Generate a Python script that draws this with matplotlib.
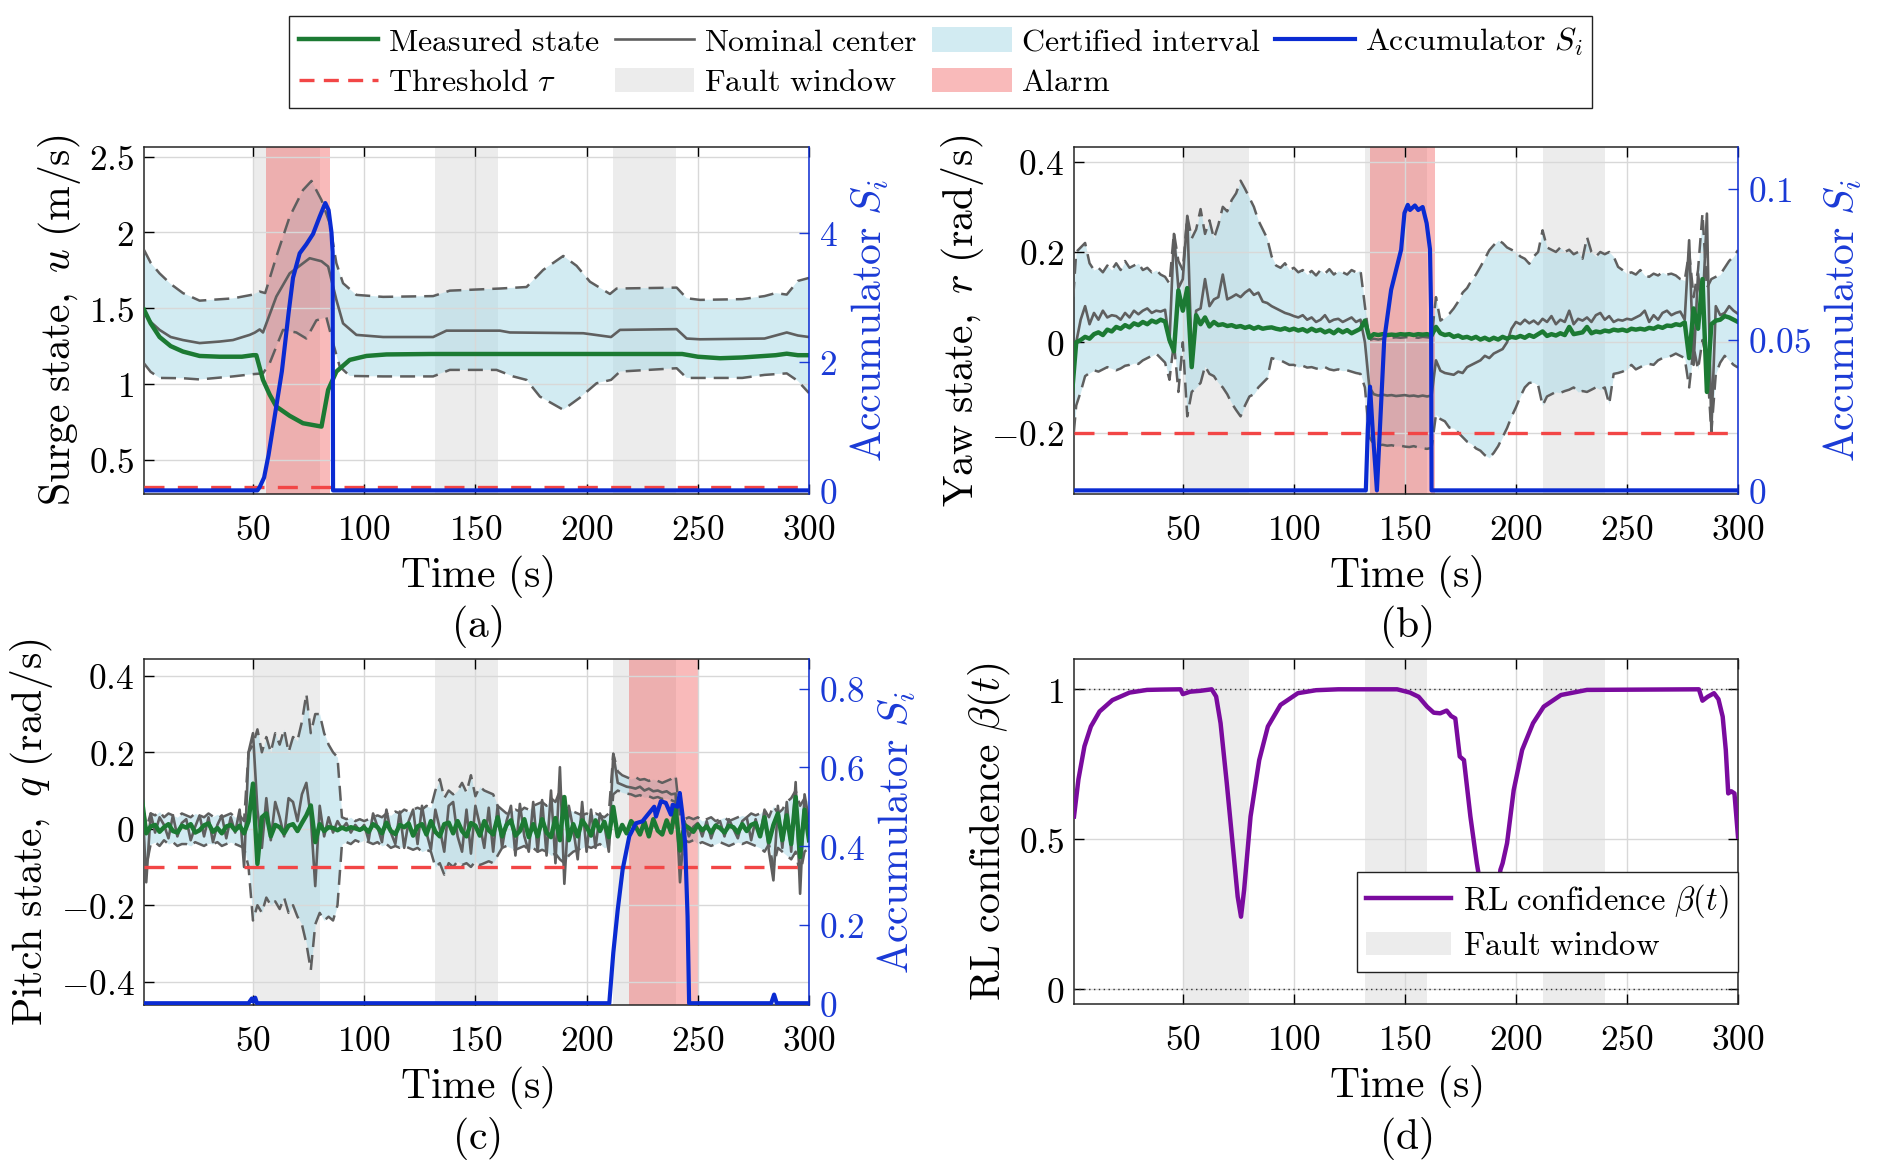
import numpy as np
import matplotlib
matplotlib.use('Agg')
import matplotlib.pyplot as plt
from matplotlib.ticker import FuncFormatter
from matplotlib.patches import Patch
from matplotlib.lines import Line2D

plt.rcParams['mathtext.fontset'] = 'cm'
plt.rcParams['font.family'] = ['DejaVu Serif']

# ---------------- data ----------------
fault_windows = [(50, 80), (132, 160), (212, 240)]
alarm_a = (56, 84.5)
alarm_b = (134.5, 163.5)
alarm_c = (219, 250)
thr_a = 0.32
thr_b = -0.2
thr_c = -0.1

# Panel (a) surge
ta_meas = [1, 4, 8, 13, 18.5, 26, 35, 45, 50, 51.5, 54.5, 57.5, 60.5, 66.5, 72.5, 80.8, 83.8, 87.5, 93.5, 101,
           110, 130, 160, 200, 243, 250, 260, 270, 280, 285, 290, 295, 300]
va_meas = [1.49, 1.40, 1.31, 1.25, 1.214, 1.185, 1.18, 1.18, 1.19, 1.19, 1.027, 0.93, 0.851, 0.79, 0.741, 0.719,
           0.961, 1.082, 1.159, 1.185, 1.195, 1.198, 1.198, 1.198, 1.198, 1.18, 1.17, 1.175, 1.185, 1.19, 1.2, 1.19, 1.19]
ta_nom = [1, 4, 8, 13, 18.5, 26, 35, 41, 48.5, 50.8, 53, 54.5, 60.5, 66.5, 75.5, 80.8, 83.8, 87.5, 90.5, 96.5,
          108.5, 131, 137, 161, 165.5, 198.5, 211, 215, 240.5, 245, 251, 280, 285, 290, 295, 300]
va_nom = [1.478, 1.41, 1.357, 1.31, 1.29, 1.27, 1.28, 1.29, 1.324, 1.339, 1.36, 1.34, 1.577, 1.73, 1.83, 1.81,
          1.775, 1.555, 1.40, 1.324, 1.31, 1.31, 1.352, 1.352, 1.34, 1.335, 1.31, 1.357, 1.362, 1.30, 1.295, 1.30,
          1.32, 1.34, 1.32, 1.31]
ta_up = [1, 4, 8, 13, 18.5, 26, 41, 50, 53, 55.5, 60.5, 66.5, 72.5, 76.3, 80.8, 84.5, 87.5, 90.5, 96.5, 108.5,
         131, 138.5, 161, 173, 180.5, 189.5, 195.5, 201.5, 210.5, 213.5, 240.5, 245, 251, 270, 280, 285, 290, 295, 300]
va_up = [1.885, 1.80, 1.73, 1.66, 1.60, 1.55, 1.565, 1.59, 1.61, 1.60, 1.84, 2.104, 2.28, 2.34, 2.214, 2.06, 1.797,
         1.665, 1.588, 1.575, 1.58, 1.616, 1.63, 1.64, 1.753, 1.845, 1.78, 1.675, 1.594, 1.63, 1.636, 1.566, 1.555,
         1.56, 1.58, 1.60, 1.59, 1.68, 1.70]
ta_lo = [1, 4, 8, 18.5, 26, 41, 50, 54.5, 57.5, 63.5, 69.5, 74, 78.5, 83, 86, 89, 93.5, 108.5, 131, 138.5,
         159.5, 167, 173, 179, 189.5, 197, 204.5, 211, 215, 240.5, 245, 251, 270, 280, 290, 295, 300]
va_lo = [1.136, 1.08, 1.04, 1.038, 1.03, 1.05, 1.065, 1.07, 1.137, 1.357, 1.34, 1.30, 1.42, 1.44, 1.27, 1.115,
         1.053, 1.05, 1.05, 1.093, 1.093, 1.05, 1.027, 0.917, 0.83, 0.91, 1.005, 1.027, 1.082, 1.104, 1.04, 1.04,
         1.04, 1.06, 1.07, 1.02, 0.94]
ta_acc = [1, 52, 53, 55, 57, 60, 63, 66, 68, 71, 74, 77, 80, 82.5, 84, 85.3, 85.8, 86.0, 300]
va_acc = [0, 0, 0.05, 0.2, 0.55, 1.2, 1.85, 2.75, 3.3, 3.68, 3.82, 3.98, 4.25, 4.46, 4.35, 4.0, 3.7, 0, 0]

# Panels (b), (c): sampled every 2 s from 0 to 300 s
t_grid = np.arange(0, 301, 2)

vb_meas = [-0.12, 0.0, 0.005, 0.012, 0.008, 0.018, 0.022, 0.016, 0.028, 0.024,
           0.034, 0.03, 0.038, 0.033, 0.042, 0.038, 0.045, 0.04, 0.048, 0.044,
           0.05, 0.046, 0.005, -0.02, 0.115, 0.07, 0.12, -0.055, 0.06, 0.04,
           0.055, 0.035, 0.045, 0.038, 0.04, 0.036, 0.038, 0.034, 0.036, 0.032,
           0.035, 0.03, 0.034, 0.03, 0.032, 0.033, 0.03, 0.028, 0.031, 0.027,
           0.03, 0.026, 0.029, 0.024, 0.03, 0.025, 0.028, 0.022, 0.026, 0.02,
           0.028, 0.022, 0.027, 0.02, 0.025, 0.03, 0.048, 0.01, 0.018, 0.016,
           0.018, 0.016, 0.017, 0.016, 0.018, 0.017, 0.018, 0.016, 0.018, 0.017,
           0.018, 0.015, 0.034, 0.02, 0.016, 0.018, 0.012, 0.015, 0.01, 0.012,
           0.008, 0.012, 0.006, 0.01, 0.005, 0.01, 0.006, 0.012, 0.008, 0.012,
           0.01, 0.014, 0.01, 0.016, 0.012, 0.018, 0.024, 0.014, 0.018, 0.015,
           0.02, 0.016, 0.034, 0.018, 0.02, 0.022, 0.034, 0.02, 0.024, 0.022,
           0.026, 0.024, 0.028, 0.026, 0.028, 0.025, 0.03, 0.028, 0.03, 0.028,
           0.032, 0.03, 0.035, 0.032, 0.037, 0.036, 0.04, 0.038, 0.044, -0.035,
           0.075, 0.03, 0.14, -0.11, 0.04, 0.048, 0.05, 0.058, 0.055, 0.05,
           0.045]
vb_nom = [-0.03, 0.0, 0.05, 0.08, 0.04, 0.065, 0.05, 0.07, 0.055, 0.06,
          0.058, 0.05, 0.065, 0.055, 0.07, 0.062, 0.07, 0.075, 0.065, 0.07,
          0.068, 0.072, 0.0, 0.24, 0.12, 0.14, 0.28, -0.035, 0.07, 0.075,
          0.14, 0.08, 0.095, 0.1, 0.15, 0.095, 0.1, 0.106, 0.1, 0.11,
          0.117, 0.105, 0.11, 0.09, 0.087, 0.08, 0.075, 0.07, 0.065, 0.062,
          0.058, 0.055, 0.06, 0.05, 0.055, 0.045, 0.05, 0.06, 0.045, 0.05,
          0.052, 0.045, 0.05, 0.055, 0.045, 0.05, 0.0, -0.1, -0.115, -0.118,
          -0.116, -0.118, -0.117, -0.119, -0.118, -0.117, -0.119, -0.118, -0.12, -0.118,
          -0.12, -0.118, -0.04, -0.063, -0.068, -0.07, -0.072, -0.065, -0.068, -0.055,
          -0.05, -0.045, -0.04, -0.03, -0.035, -0.025, -0.02, -0.015, 0.0, 0.03,
          0.045, 0.04, 0.05, 0.042, 0.048, 0.04, 0.052, 0.045, 0.058, 0.04,
          0.05, 0.045, 0.07, 0.04, 0.052, 0.048, 0.055, 0.045, 0.06, 0.065,
          0.05, 0.058, 0.045, 0.05, 0.048, 0.052, 0.05, 0.055, 0.06, 0.07,
          0.045, 0.06, 0.05, 0.065, 0.07, 0.06, 0.065, 0.068, 0.05, 0.226,
          -0.05, 0.152, 0.07, 0.285, -0.196, 0.08, 0.06, 0.065, 0.08, 0.07,
          0.063]
vb_up = [0.05, 0.2, 0.21, 0.22, 0.175, 0.16, 0.165, 0.155, 0.17, 0.16,
         0.175, 0.16, 0.18, 0.165, 0.17, 0.175, 0.16, 0.165, 0.155, 0.16,
         0.15, 0.145, 0.13, 0.243, 0.18, 0.16, 0.28, 0.23, 0.25, 0.295,
         0.24, 0.27, 0.23, 0.26, 0.3, 0.29, 0.315, 0.33, 0.358, 0.34,
         0.32, 0.3, 0.27, 0.25, 0.23, 0.19, 0.17, 0.165, 0.175, 0.16,
         0.165, 0.155, 0.16, 0.15, 0.158, 0.148, 0.16, 0.152, 0.162, 0.15,
         0.158, 0.155, 0.15, 0.16, 0.155, 0.16, 0.08, 0.005, 0.008, 0.006,
         0.008, 0.009, 0.01, 0.011, 0.01, 0.011, 0.012, 0.011, 0.01, 0.012,
         0.011, 0.01, 0.1, 0.048, 0.055, 0.063, 0.075, 0.09, 0.11, 0.12,
         0.137, 0.15, 0.167, 0.185, 0.204, 0.215, 0.226, 0.22, 0.21, 0.205,
         0.2, 0.19, 0.185, 0.174, 0.19, 0.2, 0.248, 0.21, 0.205, 0.2,
         0.21, 0.2, 0.205, 0.195, 0.2, 0.185, 0.233, 0.2, 0.19, 0.2,
         0.195, 0.2, 0.19, 0.167, 0.16, 0.152, 0.155, 0.15, 0.16, 0.148,
         0.145, 0.152, 0.148, 0.155, 0.15, 0.152, 0.148, 0.14, 0.137, 0.2,
         0.1, 0.16, 0.285, 0.12, 0.14, 0.145, 0.15, 0.165, 0.18, 0.19,
         0.204]
vb_lo = [-0.25, -0.14, -0.11, -0.075, -0.068, -0.062, -0.065, -0.06, -0.055, -0.058,
         -0.062, -0.058, -0.052, -0.05, -0.046, -0.048, -0.04, -0.035, -0.03, -0.025,
         -0.035, -0.045, -0.083, 0.0, -0.11, 0.0, -0.164, -0.11, -0.1, -0.09,
         -0.053, -0.07, -0.075, -0.09, -0.1, -0.115, -0.135, -0.15, -0.164, -0.14,
         -0.12, -0.115, -0.1, -0.09, -0.08, -0.035, -0.038, -0.04, -0.045, -0.05,
         -0.05, -0.055, -0.052, -0.056, -0.055, -0.058, -0.06, -0.055, -0.06, -0.062,
         -0.06, -0.063, -0.062, -0.065, -0.068, -0.07, -0.1, -0.21, -0.226, -0.228,
         -0.227, -0.229, -0.228, -0.23, -0.229, -0.231, -0.232, -0.23, -0.233, -0.235,
         -0.236, -0.234, -0.16, -0.17, -0.175, -0.189, -0.19, -0.2, -0.21, -0.22,
         -0.225, -0.235, -0.24, -0.25, -0.256, -0.245, -0.23, -0.21, -0.19, -0.165,
         -0.144, -0.12, -0.1, -0.09, -0.089, -0.095, -0.14, -0.12, -0.115, -0.11,
         -0.112, -0.108, -0.105, -0.1, -0.11, -0.108, -0.11, -0.105, -0.1, -0.105,
         -0.1, -0.137, -0.07, -0.068, -0.065, -0.06, -0.05, -0.06, -0.055, -0.05,
         -0.048, -0.05, -0.04, -0.035, -0.033, -0.03, -0.025, -0.03, -0.035, -0.1,
         -0.01, -0.06, 0.005, -0.04, -0.2, -0.07, -0.045, -0.03, -0.04, -0.05,
         -0.056]
tb_acc = [1, 132.4, 133.3, 134.3, 135.5, 137.4, 140.7, 143.8, 148.3, 149.8, 151.3, 152.3, 154.5, 156, 158,
          159.8, 161.3, 161.8, 162.0, 300]
vb_acc = [0, 0, 0.02, 0.0344, 0.02, 0, 0.05, 0.0665, 0.0798, 0.092, 0.0947, 0.093, 0.0945, 0.093, 0.094,
          0.0886, 0.08, 0.06, 0, 0]

vc_meas = [0.08, -0.012, 0.006, 0.01, -0.008, 0.004, 0.012, -0.006, -0.01, 0.008,
           0.003, 0.012, -0.01, -0.004, 0.009, 0.014, -0.008, 0.002, -0.012, 0.006,
           0.01, -0.004, 0.008, -0.012, 0.02, 0.118, -0.092, 0.03, 0.04, -0.02,
           0.01, 0.004, -0.012, 0.008, 0.012, -0.006, 0.015, 0.035, 0.061, -0.035,
           0.012, -0.006, 0.004, 0.002, -0.004, 0.003, -0.002, 0.004, 0.001, -0.003,
           0.003, -0.008, 0.012, 0.004, -0.012, 0.016, -0.006, -0.014, 0.01, 0.004,
           0.014, -0.018, 0.006, 0.012, -0.015, 0.02, -0.008, -0.02, 0.012, 0.016,
           -0.012, 0.02, -0.006, -0.02, 0.015, 0.008, -0.018, 0.02, -0.004, -0.015,
           0.03, -0.02, 0.01, 0.022, -0.018, -0.006, 0.025, -0.022, 0.012, -0.02,
           0.025, -0.01, -0.022, 0.028, -0.03, 0.083, -0.03, 0.012, -0.02, 0.022,
           0.005, -0.018, 0.022, -0.006, 0.018, -0.022, 0.057, -0.02, 0.01, -0.012,
           0.02, 0.006, -0.015, 0.018, -0.02, 0.025, -0.005, -0.015, 0.022, -0.01,
           0.057, -0.057, 0.01, 0.002, -0.008, 0.01, -0.004, 0.006, -0.01, 0.008,
           0.002, -0.01, 0.008, 0.004, -0.01, 0.012, -0.006, 0.01, 0.015, -0.02,
           0.03, -0.035, 0.01, 0.04, -0.03, 0.035, -0.04, 0.083, -0.074, 0.05,
           -0.03]
vc_nom = [0.1, -0.14, 0.04, -0.01, 0.03, 0.01, -0.025, 0.035, -0.02, 0.015,
          0.025, -0.03, 0.005, 0.035, -0.02, 0.03, -0.035, 0.01, 0.035, -0.025,
          0.03, -0.01, 0.05, -0.1, 0.2, 0.25, 0.05, -0.05, 0.08, -0.03,
          0.07, 0.03, -0.02, 0.08, 0.07, 0.02, 0.09, 0.12, 0.03, -0.15,
          0.06, -0.02, 0.03, -0.01, 0.02, 0.0, 0.015, -0.01, 0.01, -0.005,
          0.01, -0.03, 0.04, 0.005, -0.035, 0.05, -0.01, -0.04, 0.045, -0.05,
          0.02, 0.05, -0.04, 0.06, -0.01, -0.055, 0.05, 0.0, -0.06, 0.06,
          0.07, -0.02, -0.06, 0.05, -0.065, 0.06, 0.01, -0.05, 0.055, -0.06,
          0.06, -0.05, 0.02, 0.06, -0.07, 0.065, -0.02, -0.06, 0.07, -0.06,
          0.075, -0.07, 0.1, -0.09, 0.161, -0.144, 0.06, 0.0, -0.08, 0.07,
          -0.06, 0.05, -0.05, 0.04, 0.01, -0.06, 0.196, 0.12, 0.115, 0.11,
          0.108, 0.105, 0.11, 0.1, 0.105, 0.098, 0.1, 0.095, 0.098, 0.09,
          0.092, -0.14, 0.02, -0.02, 0.005, 0.015, -0.02, 0.02, -0.025, 0.01,
          0.02, -0.02, 0.025, 0.0, -0.025, 0.02, 0.03, -0.03, 0.025, -0.02,
          0.05, -0.06, -0.135, 0.06, -0.05, 0.07, -0.06, 0.122, -0.17, 0.09,
          0.02]
vc_up = [0.1, 0.0, 0.04, 0.035, 0.045, 0.03, 0.04, 0.035, 0.03, 0.04,
         0.035, 0.03, 0.04, 0.035, 0.03, 0.04, 0.032, 0.038, 0.03, 0.035,
         0.04, 0.03, 0.035, 0.02, 0.2, 0.22, 0.26, 0.2, 0.24, 0.2,
         0.25, 0.22, 0.26, 0.2, 0.24, 0.23, 0.28, 0.353, 0.25, 0.3,
         0.3, 0.25, 0.22, 0.2, 0.187, 0.03, 0.025, 0.03, 0.02, 0.025,
         0.02, 0.025, 0.03, 0.035, 0.03, 0.04, 0.035, 0.045, 0.04, 0.05,
         0.045, 0.05, 0.055, 0.05, 0.06, 0.055, 0.1, 0.13, 0.08, 0.1,
         0.09, 0.1, 0.12, 0.095, 0.14, 0.085, 0.11, 0.1, 0.095, 0.09,
         0.06, 0.05, 0.04, 0.045, 0.05, 0.045, 0.055, 0.05, 0.06, 0.065,
         0.07, 0.06, 0.08, 0.07, 0.1, 0.06, 0.05, 0.045, 0.04, 0.035,
         0.04, 0.035, 0.04, 0.035, 0.03, 0.04, 0.196, 0.15, 0.14, 0.135,
         0.13, 0.135, 0.128, 0.13, 0.125, 0.13, 0.125, 0.12, 0.125, 0.13,
         0.14, 0.03, 0.025, 0.03, 0.025, 0.03, 0.02, 0.025, 0.03, 0.02,
         0.025, 0.03, 0.02, 0.025, 0.03, 0.035, 0.03, 0.04, 0.035, 0.04,
         0.05, 0.03, 0.06, 0.04, 0.05, 0.07, 0.08, 0.1, 0.06, 0.08,
         0.07]
vc_lo = [-0.06, -0.1, -0.04, -0.035, -0.045, -0.03, -0.04, -0.035, -0.045, -0.04,
         -0.04, -0.045, -0.035, -0.04, -0.045, -0.038, -0.04, -0.035, -0.045, -0.04,
         -0.035, -0.04, -0.045, -0.05, -0.1, -0.24, -0.2, -0.22, -0.18, -0.2,
         -0.19, -0.21, -0.18, -0.22, -0.2, -0.23, -0.25, -0.3, -0.37, -0.25,
         -0.22, -0.24, -0.23, -0.24, -0.2, -0.04, -0.035, -0.04, -0.03, -0.035,
         -0.03, -0.035, -0.04, -0.035, -0.045, -0.04, -0.05, -0.045, -0.05, -0.045,
         -0.05, -0.055, -0.05, -0.06, -0.055, -0.06, -0.1, -0.09, -0.12, -0.09,
         -0.1, -0.085, -0.095, -0.09, -0.1, -0.085, -0.095, -0.09, -0.085, -0.09,
         -0.07, -0.05, -0.045, -0.05, -0.055, -0.05, -0.045, -0.055, -0.05, -0.06,
         -0.055, -0.06, -0.07, -0.065, -0.08, -0.09, -0.07, -0.06, -0.055, -0.05,
         -0.045, -0.05, -0.045, -0.04, -0.05, -0.045, 0.09, 0.1, 0.095, 0.092,
         0.09, 0.085, 0.088, 0.082, 0.085, 0.08, 0.083, 0.078, 0.08, 0.075,
         0.07, -0.1, -0.03, -0.035, -0.03, -0.04, -0.035, -0.04, -0.045, -0.04,
         -0.035, -0.04, -0.045, -0.04, -0.035, -0.04, -0.035, -0.04, -0.045, -0.05,
         -0.06, -0.04, -0.1, -0.05, -0.06, -0.07, -0.08, -0.06, -0.12, -0.06,
         -0.05]
tc_acc = [1, 48, 49.5, 50.2, 51, 51.8, 53, 210.2, 212, 214, 216.2, 219.2, 222.2, 225.1, 228.1, 230.4, 231.2,
          233.4, 235.6, 237.9, 238.7, 240.9, 241.9, 243.1, 244.3, 245.4, 246.1, 283, 284.3, 285.5, 300]
vc_acc = [0, 0, 0.012, 0.004, 0.014, 0, 0, 0, 0.128, 0.238, 0.34, 0.425, 0.458, 0.463, 0.484, 0.5, 0.475,
          0.514, 0.51, 0.48, 0.505, 0.5, 0.535, 0.48, 0.408, 0.221, 0, 0, 0.022, 0, 0]

# Panel (d) RL confidence
td_beta = [1, 3, 5.7, 8.6, 12.5, 18.3, 26, 33.9, 40, 49, 50, 53.3, 58, 63, 65, 67, 69.8, 72.7, 74.7, 76.2,
           77.6, 80.5, 84.4, 88.3, 94, 101.8, 110, 120, 146.5, 152.3, 156.2, 160, 163, 165.9, 168.8, 170.8,
           172.7, 174.7, 176.6, 179.5, 182.4, 184.4, 188, 191, 193, 194, 196, 199, 202.8, 207.7, 212.5, 220.3,
           232, 282.4, 284, 286.3, 289.2, 291.2, 293.1, 294.5, 295.6, 297, 298.4, 300]
vd_beta = [0.576, 0.70, 0.81, 0.876, 0.926, 0.964, 0.989, 0.998, 0.999, 1.0, 0.984, 0.992, 0.995, 1.0, 0.976,
           0.887, 0.687, 0.464, 0.309, 0.242, 0.331, 0.576, 0.764, 0.876, 0.948, 0.987, 0.997, 1.0, 1.0, 0.989,
           0.975, 0.942, 0.922, 0.92, 0.929, 0.911, 0.903, 0.776, 0.764, 0.576, 0.42, 0.331, 0.2, 0.25, 0.398,
           0.42, 0.487, 0.664, 0.798, 0.887, 0.942, 0.981, 0.998, 1.0, 0.962, 0.975, 0.987, 0.967, 0.909, 0.798,
           0.653, 0.66, 0.653, 0.509]

x_ticks = [50, 100, 150, 200, 250, 300]

# ---------------- style ----------------
GREEN = '#1c7a33'
GREY = '#5f5f5f'
CERT = (0.68, 0.86, 0.91)
CERT_A = 0.55
FAULT = '#ececec'
ALARM = (0.94, 0.33, 0.33)
ALARM_A = 0.4
BLUE = '#0a2bd2'
BLUE_T = '#1a3ad6'
RED = '#f24646'
PURPLE = '#7a0b9e'
TICK = 25.5
LAB = 30
LEG = 23.5

fmt = FuncFormatter(lambda v, p: '$%g$' % v)

fig = plt.figure(figsize=(18.86, 11.76), dpi=100)
W, H = 1886.0, 1176.0


def axes_at(l, t, r, b):
    return fig.add_axes([l / W, 1 - b / H, (r - l) / W, (b - t) / H])


def style_main(ax, ylim, yticks, right_ticks=False):
    ax.set_xlim(1, 300)
    ax.set_ylim(*ylim)
    ax.set_xticks(x_ticks)
    ax.set_yticks(yticks)
    ax.xaxis.set_major_formatter(fmt)
    ax.yaxis.set_major_formatter(fmt)
    ax.tick_params(direction='in', length=7, width=1, labelsize=TICK, top=True, right=right_ticks, pad=7)
    ax.tick_params(axis='x', pad=14)
    ax.grid(True, color='#d8d8d8', lw=1.0)
    for s in ax.spines.values():
        s.set_linewidth(1.1)
        s.set_color('#262626')
    ax.set_xlabel(r'$\mathrm{Time\ (s)}$', fontsize=LAB, labelpad=4)


def style_twin(ax2, ylim, yticks):
    ax2.set_ylim(*ylim)
    ax2.set_yticks(yticks)
    ax2.yaxis.set_major_formatter(fmt)
    ax2.tick_params(axis='y', direction='in', length=7, width=1, colors=BLUE_T, labelsize=TICK, pad=7)
    for k in ['left', 'top', 'bottom']:
        ax2.spines[k].set_visible(False)
    ax2.spines['right'].set_color(BLUE)
    ax2.spines['right'].set_linewidth(1.1)
    ax2.set_ylabel(r'$\mathrm{Accumulator}\ S_i$', color=BLUE_T, fontsize=LAB, labelpad=8)


def shade(ax, alarm):
    for a, b in fault_windows:
        ax.axvspan(a, b, color=FAULT, lw=0, zorder=0.5)
    if alarm is not None:
        ax.axvspan(alarm[0], alarm[1], color=ALARM, alpha=ALARM_A, lw=0, zorder=1.2)


DASH = dict(color=GREY, lw=1.8, dashes=(6, 3.2), zorder=3)
THR = dict(color=RED, lw=2.4, dashes=(6, 4), zorder=3.5)

# ---- panel (a)
ax = axes_at(144, 147, 809, 494)
shade(ax, alarm_a)
poly_t = list(ta_up) + list(ta_lo[::-1])
poly_v = list(va_up) + list(va_lo[::-1])
ax.fill(poly_t, poly_v, color=CERT, alpha=CERT_A, lw=0, zorder=1)
ax.axhline(thr_a, **THR)
ax.plot(ta_up, va_up, **DASH)
ax.plot(ta_lo, va_lo, **DASH)
ax.plot(ta_nom, va_nom, color=GREY, lw=1.9, zorder=3.2)
ax.plot(ta_meas, va_meas, color=GREEN, lw=3.2, zorder=4)
style_main(ax, (0.274, 2.564), [0.5, 1, 1.5, 2, 2.5])
ax.spines['right'].set_visible(False)
ax.set_ylabel(r'$\mathrm{Surge\ state,}\ u\ \mathrm{(m/s)}$', fontsize=LAB)
ax2 = ax.twinx()
ax2.plot(ta_acc, va_acc, color=BLUE, lw=3.0, zorder=5)
style_twin(ax2, (-0.056, 5.33), [0, 2, 4])
ax2.set_xlim(1, 300)

# ---- panel (b)
ax = axes_at(1074, 147, 1738, 494)
shade(ax, alarm_b)
ax.fill_between(t_grid, vb_lo, vb_up, color=CERT, alpha=CERT_A, lw=0, zorder=1)
ax.axhline(thr_b, **THR)
ax.plot(t_grid, vb_up, **DASH)
ax.plot(t_grid, vb_lo, **DASH)
ax.plot(t_grid, vb_nom, color=GREY, lw=1.9, zorder=3.2)
ax.plot(t_grid, vb_meas, color=GREEN, lw=3.2, zorder=4)
style_main(ax, (-0.336, 0.4325), [-0.2, 0, 0.2, 0.4])
ax.spines['right'].set_visible(False)
ax.set_ylabel(r'$\mathrm{Yaw\ state,}\ r\ \mathrm{(rad/s)}$', fontsize=LAB)
ax2 = ax.twinx()
ax2.plot(tb_acc, vb_acc, color=BLUE, lw=3.0, zorder=5)
style_twin(ax2, (-0.0012, 0.1139), [0, 0.05, 0.1])
ax2.set_xlim(1, 300)

# ---- panel (c)
ax = axes_at(144, 659, 809, 1005)
shade(ax, alarm_c)
ax.fill_between(t_grid, vc_lo, vc_up, color=CERT, alpha=CERT_A, lw=0, zorder=1)
ax.axhline(thr_c, **THR)
ax.plot(t_grid, vc_up, **DASH)
ax.plot(t_grid, vc_lo, **DASH)
ax.plot(t_grid, vc_nom, color=GREY, lw=1.9, zorder=3.2)
ax.plot(t_grid, vc_meas, color=GREEN, lw=3.2, zorder=4)
style_main(ax, (-0.461, 0.444), [-0.4, -0.2, 0, 0.2, 0.4])
ax.spines['right'].set_visible(False)
ax.set_ylabel(r'$\mathrm{Pitch\ state,}\ q\ \mathrm{(rad/s)}$', fontsize=LAB)
ax2 = ax.twinx()
ax2.plot(tc_acc, vc_acc, color=BLUE, lw=3.0, zorder=5)
style_twin(ax2, (-0.0045, 0.876), [0, 0.2, 0.4, 0.6, 0.8])
ax2.set_xlim(1, 300)

# ---- panel (d)
ax = axes_at(1074, 659, 1738, 1004)
shade(ax, None)
ax.axhline(1.0, color='#333333', lw=1.0, ls=(0, (1, 2.5)), zorder=2)
ax.axhline(0.0, color='#333333', lw=1.0, ls=(0, (1, 2.5)), zorder=2)
hb, = ax.plot(td_beta, vd_beta, color=PURPLE, lw=3.2, zorder=4)
style_main(ax, (-0.049, 1.101), [0, 0.5, 1], right_ticks=True)
ax.set_ylabel(r'$\mathrm{RL\ confidence}\ \beta(t)$', fontsize=LAB)
lg = ax.legend([hb, Patch(facecolor=FAULT, edgecolor='none')],
               [r'$\mathrm{RL\ confidence}\ \beta(t)$', r'$\mathrm{Fault\ window}$'],
               loc='lower right', bbox_to_anchor=(1.0, 0.094), borderaxespad=0, fontsize=LEG,
               frameon=True, fancybox=False, edgecolor='#222222', framealpha=1,
               handlelength=2.6, handletextpad=0.35, labelspacing=0.3, borderpad=0.3)
lg.get_frame().set_linewidth(1.0)
lg.set_zorder(10)

# ---- captions
for x, y, s in [((144 + 809) / 2, 626, '(a)'), ((1074 + 1738) / 2, 626, '(b)'),
                ((144 + 809) / 2, 1138, '(c)'), ((1074 + 1738) / 2, 1138, '(d)')]:
    fig.text(x / W, 1 - y / H, r'$\mathrm{%s}$' % s, fontsize=LAB, ha='center', va='center')

# ---- top legend
handles = [Line2D([], [], color=GREEN, lw=3.2),
           Line2D([], [], color=RED, lw=2.4, dashes=(4.5, 2.8)),
           Line2D([], [], color=GREY, lw=1.9),
           Patch(facecolor=FAULT, edgecolor='none'),
           Patch(facecolor=CERT, alpha=CERT_A, edgecolor='none'),
           Patch(facecolor=ALARM, alpha=ALARM_A, edgecolor='none'),
           Line2D([], [], color=BLUE, lw=3.0)]
labels = [r'$\mathrm{Measured\ state}$', r'$\mathrm{Threshold}\ \tau$', r'$\mathrm{Nominal\ center}$',
          r'$\mathrm{Fault\ window}$', r'$\mathrm{Certified\ interval}$', r'$\mathrm{Alarm}$',
          r'$\mathrm{Accumulator}\ S_i$']
lg2 = fig.legend(handles, labels, ncol=4, loc='upper center', bbox_to_anchor=(940.5 / W, 1 - 16 / H),
                 borderaxespad=0, fontsize=23, frameon=True, fancybox=False, edgecolor='#222222',
                 framealpha=1, handlelength=2.5, handletextpad=0.3, columnspacing=0.45, borderpad=0.3,
                 labelspacing=0.3, handleheight=0.8)
lg2.get_frame().set_linewidth(1.0)

fig.savefig('out.png', dpi=100)
